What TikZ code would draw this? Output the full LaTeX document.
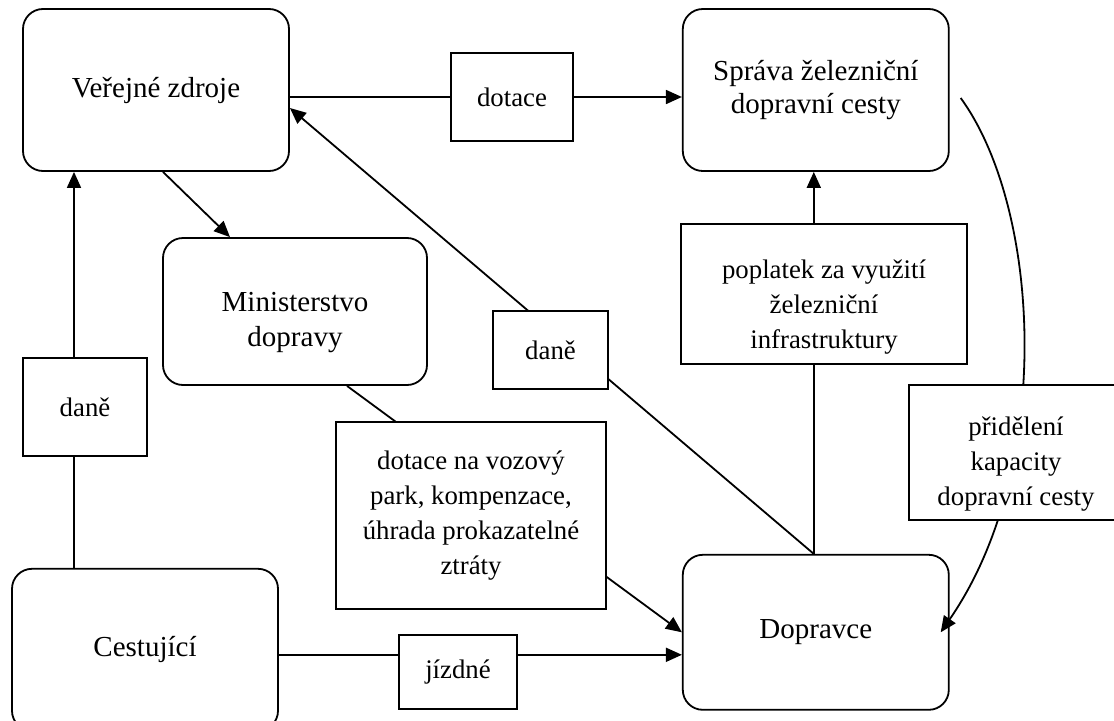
\documentclass[tikz,border=0pt]{standalone}
\usepackage{fontspec}
\setmainfont{Liberation Serif}
\usetikzlibrary{arrows.meta,positioning,calc}
\newcommand{\topstrut}[1]{\rule{0pt}{#1}}
\tikzset{
  actor/.style={rectangle,rounded corners=10pt,draw,line width=0.9pt,
    align=center,minimum width=133pt,minimum height=81pt,
    font=\fontsize{14.5}{16.5}\selectfont},
  flow/.style={rectangle,draw,fill=white,line width=0.9pt,align=center,
    inner sep=0pt,font=\fontsize{13.4}{17.5}\selectfont},
  arr/.style={-{Triangle[length=8pt,width=7pt]},line width=0.9pt},
}

\begin{document}
\begin{tikzpicture}[x=1pt,y=1pt]
  \useasboundingbox (0,0) rectangle (557,360);

  % actors
  \node[actor] (vz) at (78,315) {Veřejné zdroje};
  \node[actor,right=196pt of vz] (spr) {Správa železniční\\dopravní cesty};
  \node[actor,minimum height=77.5pt,below=191pt of spr] (dop) {Dopravce};
  \node[actor,below=198pt of vz,xshift=-5.5pt] (cest) {Cestující};
  \node[actor,minimum width=132pt,minimum height=73.5pt,
    font=\fontsize{14.5}{17.5}\selectfont] (mini)
    at (147.5,204.25) {\topstrut{21pt}Ministerstvo\\dopravy};

  % money and service flows
  \draw[arr] ([yshift=-3.5pt]vz.east) -- ([yshift=-3.5pt]spr.west);
  \draw[arr] ([xshift=-35.5pt]cest.north) -- ([xshift=-35.5pt]cest.north |- vz.south);
  \draw[arr] ([xshift=3.5pt]vz.south) -- ([xshift=-32.5pt]mini.north);
  \draw[arr] ([xshift=26pt]mini.south) -- (dop.west);
  \draw[arr] ([yshift=-2.5pt]cest.east) -- ([yshift=-2.5pt]cest.east -| dop.west);
  \draw[arr] ([xshift=-1pt]dop.north) -- ([xshift=-1pt]spr.south);
  \draw[arr] ([xshift=-1pt]dop.north) -- ([yshift=-9pt]vz.east);
  \draw[arr] ([xshift=5.5pt,yshift=-4pt]spr.east)
    .. controls +(40,-55) and +(57,82.5) .. ([xshift=-4.5pt]dop.east);

  % labels on the flows
  \node[flow,minimum width=61pt,minimum height=44pt] (fdot) at (256,311.5) {dotace};
  \node[flow,minimum width=62pt,minimum height=49pt] (fdan1) at (42.5,156.5) {daně};
  \node[flow,minimum width=57.5pt,minimum height=39pt] (fdan2) at (275.25,185) {daně};
  \node[flow,minimum width=143pt,minimum height=70pt] (fpop) at (412,213)
    {\topstrut{22pt}poplatek za využití\\železniční\\infrastruktury};
  \node[flow,minimum width=135pt,minimum height=93.5pt] (fmin) at (235.5,102.25)
    {dotace na vozový\\park, kompenzace,\\úhrada prokazatelné\\ztráty};
  \node[flow,minimum width=107pt,minimum height=67.5pt] (fkap) at (508,133.75)
    {\topstrut{21pt}přidělení\\kapacity\\dopravní cesty};
  \node[flow,minimum width=59pt,minimum height=37pt] (fjiz) at (229,24) {jízdné};
\end{tikzpicture}
\end{document}
